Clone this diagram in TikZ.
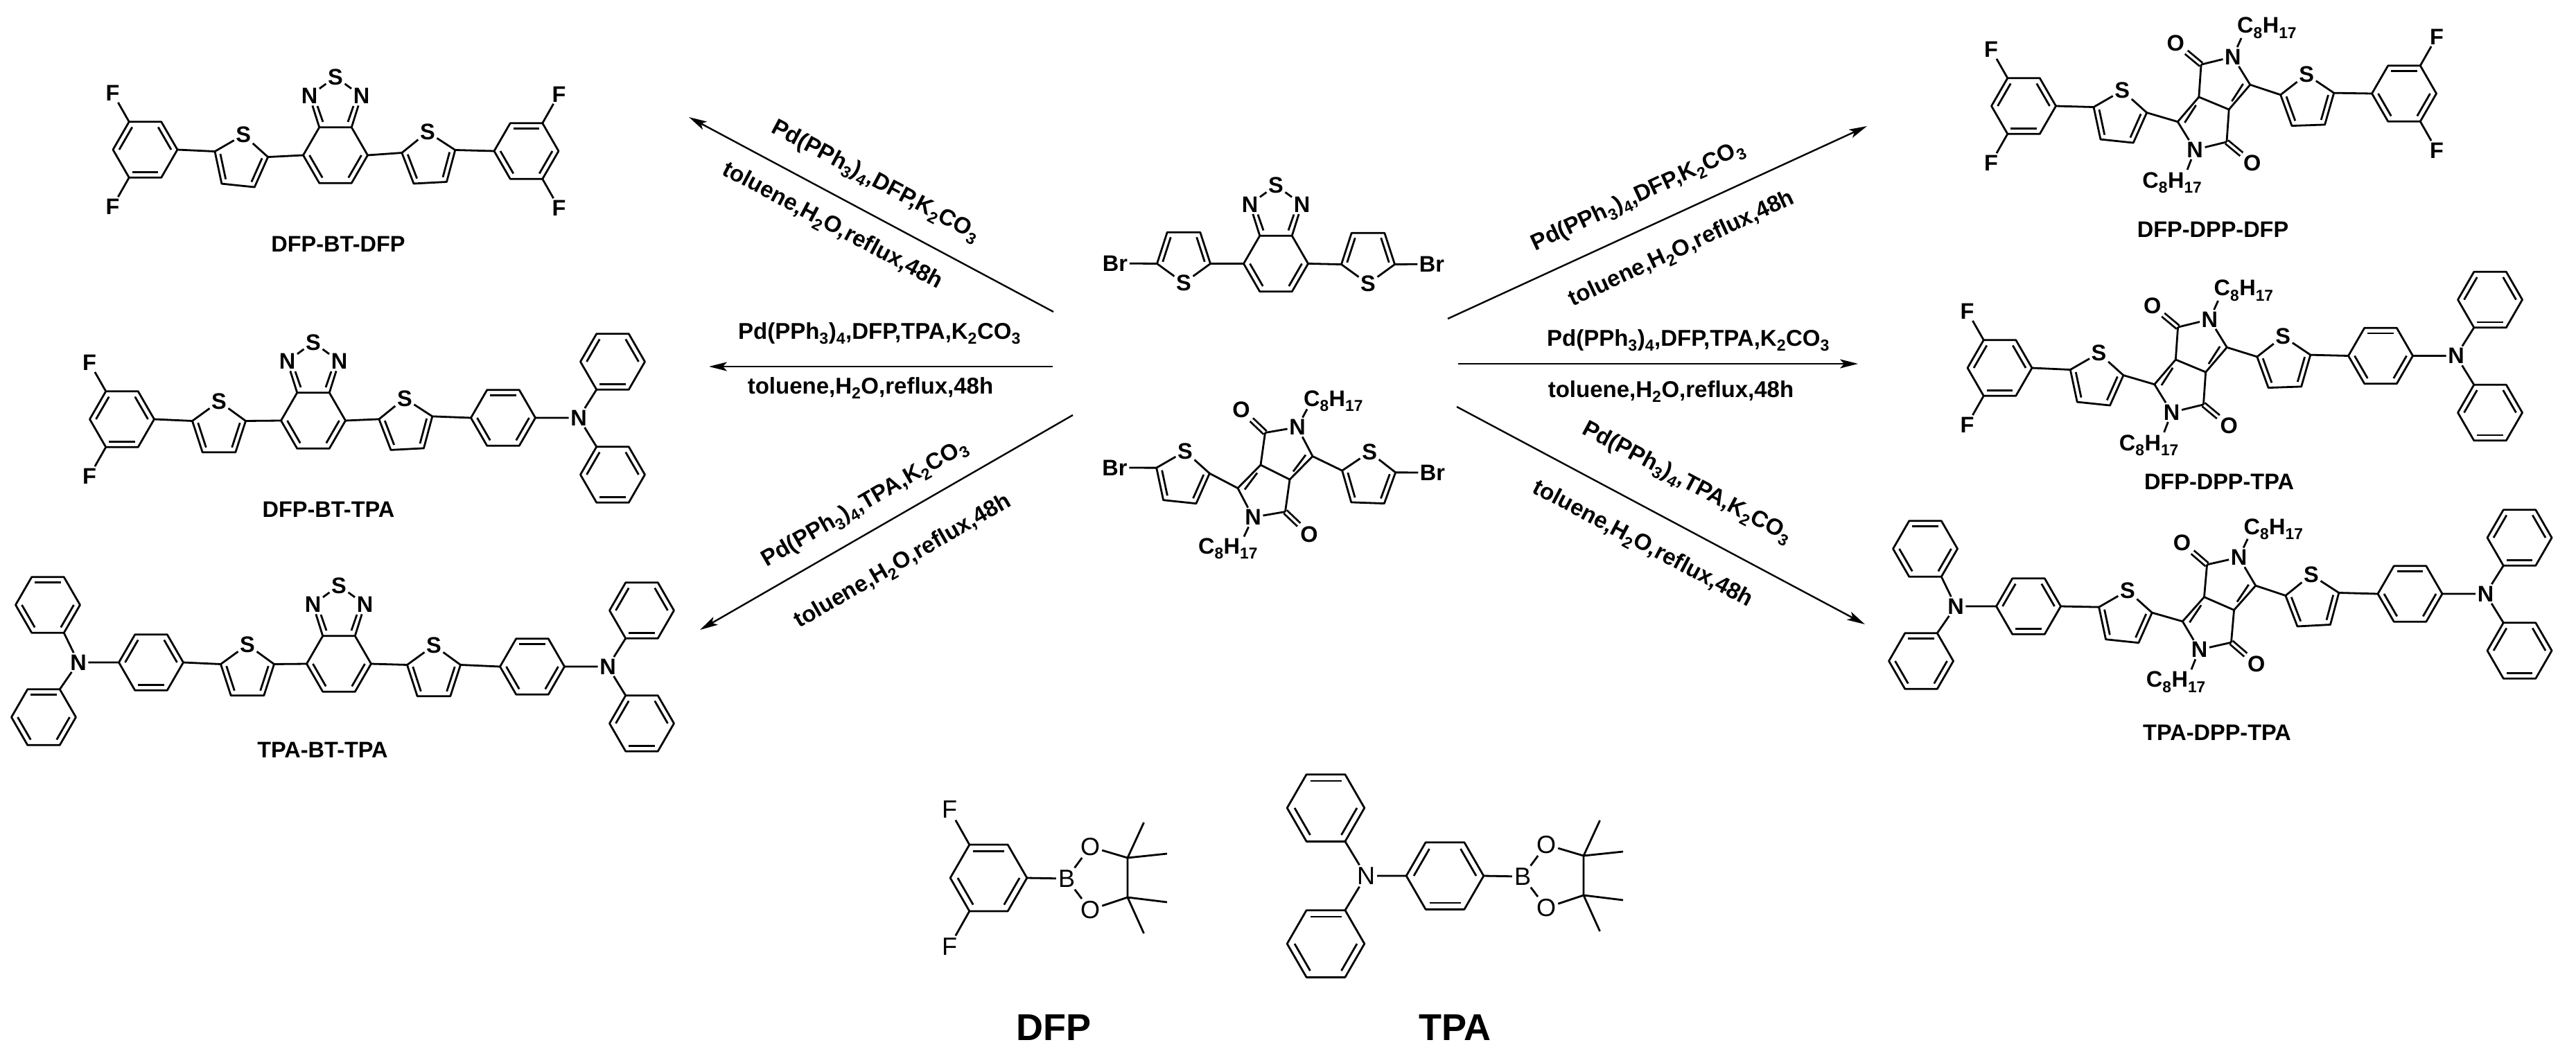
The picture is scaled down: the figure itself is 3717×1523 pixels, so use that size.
\documentclass[tikz,border=0pt]{standalone}
\usepackage{fontspec}
\setmainfont{Liberation Sans}
\usetikzlibrary{arrows.meta}
\tikzstyle{bond} = [line width=2.8pt, line join=round]
\tikzstyle{arrow} = [line width=2.4pt, -{Stealth[length=26pt,width=13pt,inset=6pt]}]
\tikzstyle{atom} = [inner sep=2.5pt, font=\fontsize{32.5}{33}\selectfont\bfseries]
\tikzstyle{thinatom} = [inner sep=3pt, font=\fontsize{36}{36}\selectfont]
\tikzstyle{cond} = [inner sep=0pt, font=\fontsize{33}{33}\selectfont\bfseries]
\tikzstyle{title} = [inner sep=0pt, font=\fontsize{32.5}{33}\selectfont\bfseries]
\tikzstyle{bigtitle} = [inner sep=0pt, font=\fontsize{54}{54}\selectfont\bfseries]
\newcommand\octyl{C\textsubscript{8}H\textsubscript{17}}
\newcommand\pdcat{Pd(PPh\textsubscript{3})\textsubscript{4}}
\newcommand\carb{K\textsubscript{2}CO\textsubscript{3}}
\newcommand\solv{toluene,H\textsubscript{2}O,reflux,48h}
\tikzset{
	pics/hexring/.style={code={
		\foreach \k in {1,...,6} {\coordinate (-\k) at ({60*(\k-1)}:46.5);}
		\draw [bond] (-1) -- (-2) -- (-3) -- (-4) -- (-5) -- (-6) -- cycle;
		\foreach \k in {#1} {\draw [bond] ({60*(\k-1)}:37.5) -- ({60*\k}:37.5);}
	}},
	pics/thienyl/.style={code={
		\node [atom] (-S) at (270:40.5) {S};
		\foreach \k in {1,...,4} {\coordinate (-\k) at ({270+72*\k}:40.5);}
		\draw [bond] (-S) -- (-1) -- (-2) -- (-3) -- (-4) -- (-S);
		\draw [bond] (342:31.8) -- (54:31.8) (126:31.8) -- (198:31.8);
	}},
	pics/dfpleft/.style={code={
		\pic (-ring) at (0,0) {hexring={2,4,6}};
		\node [atom] (-Fa) at (-47,-82) {F};
		\node [atom] (-Fb) at (-47,82) {F};
		\draw [bond] (-ring-5) -- (-Fa) (-ring-3) -- (-Fb);
	}},
	pics/dfpright/.style={code={
		\pic (-ring) at (0,0) {hexring={1,3,5}};
		\node [atom] (-Fa) at (47,-82) {F};
		\node [atom] (-Fb) at (47,82) {F};
		\draw [bond] (-ring-6) -- (-Fa) (-ring-2) -- (-Fb);
	}},
	pics/tpaleft/.style={code={
		\pic (-ring) at (0,0) {hexring={2,4,6}};
		\node [atom] (-N) at (-105,0) {N};
		\pic (-up) at (-149,-83) {hexring={1,3,5}};
		\pic (-lo) at (-155,79) {hexring={1,3,5}};
		\draw [bond] (-N) -- (-ring-4) (-N) -- (-up-2) (-N) -- (-lo-6);
	}},
	pics/tparight/.style={code={
		\pic (-ring) at (0,0) {hexring={1,3,5}};
		\node [atom] (-N) at (109,0) {N};
		\pic (-up) at (158,-81) {hexring={2,4,6}};
		\pic (-lo) at (158,82) {hexring={2,4,6}};
		\draw [bond] (-N) -- (-ring-1) (-N) -- (-up-3) (-N) -- (-lo-5);
	}},
	pics/btcore/.style={code={
		\pic (-ring) at (0,0) {hexring={1,3}};
		\node [atom] (-Na) at (-37.5,-85.5) {N};
		\node [atom] (-Nb) at (37.5,-85.5) {N};
		\node [atom] (-S) at (0,-113) {S};
		\draw [bond] (-ring-5) -- (-Na) -- (-S) -- (-Nb) -- (-ring-6);
		\draw [bond] (-18,-48) -- (-26,-71) (18,-48) -- (26,-71);
	}},
	pics/dppcore/.style={code={
		\coordinate (-A) at (-21,-10.5);
		\coordinate (-B) at (21,10.5);
		\coordinate (-Ca) at (-14.5,-57);
		\coordinate (-Cb) at (14.5,57);
		\coordinate (-Cl) at (-54,23);
		\coordinate (-Cr) at (54,-23);
		\node [atom] (-Na) at (32,-65) {N};
		\node [atom] (-Nb) at (-32,65) {N};
		\node [atom] (-Oa) at (-49,-90) {O};
		\node [atom] (-Ob) at (49,90) {O};
		\node [atom] (-Ta) at (84,-103) {\octyl};
		\node [atom] (-Tb) at (-68,110) {\octyl};
		\coordinate (-ea) at (46,-91);
		\coordinate (-eb) at (-45,93);
		\draw [bond, double, double distance=3.5pt] (-Ca) -- (-Oa) (-Cb) -- (-Ob);
		\draw [bond] (-Ca) -- (-Na) -- (-Cr) -- (-B) -- (-A) -- (-Ca);
		\draw [bond] (-Cb) -- (-Nb) -- (-Cl) -- (-A) (-B) -- (-Cb);
		\draw [bond] (26,-1) -- (44,-25) (-26,1) -- (-44,25);
		\draw [bond] (-Na) -- (-ea) (-Nb) -- (-eb);
	}},
	pics/pinacol/.style={code={
		\node [thinatom] (-B) at (0,0) {B};
		\node [thinatom] (-Oa) at (34,-46) {O};
		\node [thinatom] (-Ob) at (34,45) {O};
		\coordinate (-Ca) at (88,-30);
		\coordinate (-Cb) at (88,27);
		\coordinate (-ma) at (111.5,-81);
		\coordinate (-mb) at (145,-36);
		\coordinate (-mc) at (145,34);
		\coordinate (-md) at (111.5,79);
		\draw [bond] (-B) -- (-Oa) -- (-Ca) -- (-Cb) -- (-Ob) -- (-B);
		\draw [bond] (-ma) -- (-Ca) -- (-mb) (-mc) -- (-Cb) -- (-md);
	}},
}

\begin{document}
\begin{tikzpicture}[x=1pt, y=-1pt]
\useasboundingbox (0,0) rectangle (3717,1523);

% DFP-BT-DFP
\pic (a1) at (209.5,216) {dfpleft};
\pic [rotate=-6] (a2) at (347,235) {thienyl};
\pic (a3) at (484,224) {btcore};
\pic [rotate=3] (a4) at (619,231) {thienyl};
\pic (a5) at (759.5,218) {dfpright};
\draw [bond] (a1-ring-1) -- (a2-4) (a2-1) -- (a3-ring-4) (a3-ring-1) -- (a4-4) (a4-1) -- (a5-ring-4);
\node [title] (nameA) at (488,352) {DFP-BT-DFP};

% DFP-BT-TPA
\pic (b1) at (176,605) {dfpleft};
\pic (b2) at (316,620) {thienyl};
\pic (b3) at (452,607) {btcore};
\pic [rotate=3] (b4) at (586,615.4) {thienyl};
\pic (b5) at (726,603) {tparight};
\draw [bond] (b1-ring-1) -- (b2-4) (b2-1) -- (b3-ring-4) (b3-ring-1) -- (b4-4) (b4-1) -- (b5-ring-4);
\node [title] (nameB) at (474,735) {DFP-BT-TPA};

% TPA-BT-TPA
\pic (c1) at (218,956) {tpaleft};
\pic (c2) at (357,971) {thienyl};
\pic (c3) at (489,958) {btcore};
\pic (c4) at (626,972) {thienyl};
\pic (c5) at (768,962) {tparight};
\draw [bond] (c1-ring-1) -- (c2-4) (c2-1) -- (c3-ring-4) (c3-ring-1) -- (c4-4) (c4-1) -- (c5-ring-4);
\node [title] (nameC) at (465.5,1082) {TPA-BT-TPA};

% Br-BT-Br
\node [atom] (brA) at (1609,380) {Br};
\pic [rotate=180] (d1) at (1708,368) {thienyl};
\pic (d2) at (1841,380.5) {btcore};
\pic [rotate=180] (d3) at (1974,369) {thienyl};
\node [atom] (brB) at (2066,381) {Br};
\draw [bond] (brA) -- (d1-1) (d1-4) -- (d2-ring-4) (d2-ring-1) -- (d3-1) (d3-4) -- (brB);

% Br-DPP-Br
\node [atom] (brC) at (1608.5,675) {Br};
\pic [rotate=-6] (e1) at (1705.7,691.6) {thienyl};
\pic (e2) at (1840,681.5) {dppcore};
\pic [rotate=-2] (e3) at (1974.7,693) {thienyl};
\node [atom] (brD) at (2067,682) {Br};
\draw [bond] (brC) -- (e1-4) (e1-1) -- (e2-Cl) (e2-Cr) -- (e3-4) (e3-1) -- (brD);

% DFP-DPP-DFP
\pic (f1) at (2920,153) {dfpleft};
\pic [rotate=-6] (f2) at (3058,171) {thienyl};
\pic [rotate=4] (f3) at (3194.5,149) {dppcore};
\pic [rotate=2] (f4) at (3329.6,148) {thienyl};
\pic (f5) at (3469,135) {dfpright};
\draw [bond] (f1-ring-1) -- (f2-4) (f2-1) -- (f3-Cl) (f3-Cr) -- (f4-4) (f4-1) -- (f5-ring-4);
\node [title] (nameF) at (3193,331) {DFP-DPP-DFP};

% DFP-DPP-TPA
\pic (g1) at (2885.5,531) {dfpleft};
\pic [rotate=-6] (g2) at (3024.3,550) {thienyl};
\pic [rotate=4] (g3) at (3161,528) {dppcore};
\pic [rotate=2] (g4) at (3295.7,526) {thienyl};
\pic (g5) at (3435,513.5) {tparight};
\draw [bond] (g1-ring-1) -- (g2-4) (g2-1) -- (g3-Cl) (g3-Cr) -- (g4-4) (g4-1) -- (g5-ring-4);
\node [title] (nameG) at (3202,695) {DFP-DPP-TPA};

% TPA-DPP-TPA
\pic (h1) at (2927,875) {tpaleft};
\pic [rotate=-6] (h2) at (3065.6,892.6) {thienyl};
\pic [rotate=3] (h3) at (3202,871) {dppcore};
\pic [rotate=3] (h4) at (3337,870) {thienyl};
\pic (h5) at (3477.5,857) {tparight};
\draw [bond] (h1-ring-1) -- (h2-4) (h2-1) -- (h3-Cl) (h3-Cr) -- (h4-4) (h4-1) -- (h5-ring-4);
\node [title] (nameH) at (3199,1057) {TPA-DPP-TPA};

% boronate DFP
\pic [scale=1.19] (k1) at (1426.5,1267) {hexring={1,3,5}};
\node [thinatom] (kFa) at (1370,1168) {F};
\node [thinatom] (kFb) at (1370,1366) {F};
\pic (k2) at (1539,1268) {pinacol};
\draw [bond] (k1-5) -- (kFa) (k1-3) -- (kFb) (k1-1) -- (k2-B);
\node [bigtitle] (nameK) at (1520,1483) {DFP};

% boronate TPA
\pic [scale=1.2] (m1) at (1913,1166) {hexring={1,3,5}};
\pic [scale=1.2] (m2) at (1913,1362) {hexring={1,3,5}};
\pic [scale=1.2] (m3) at (2085,1264) {hexring={2,4,6}};
\node [thinatom] (mN) at (1971,1264) {N};
\pic (m4) at (2197,1265) {pinacol};
\draw [bond] (mN) -- (m1-2) (mN) -- (m2-6) (mN) -- (m3-4) (m3-1) -- (m4-B);
\node [bigtitle] (nameM) at (2099.5,1483) {TPA};

% arrows, free ends
\coordinate (p1s) at (1520,450);
\coordinate (p1e) at (994,169);
\coordinate (p2s) at (1519,529);
\coordinate (p2e) at (1023,529);
\coordinate (p3s) at (1548,599);
\coordinate (p3e) at (1010,909);
\coordinate (p4s) at (2089,460);
\coordinate (p4e) at (2694,182);
\coordinate (p5s) at (2104,525);
\coordinate (p5e) at (2681,525);
\coordinate (p6s) at (2102,587);
\coordinate (p6e) at (2691,901);
\draw [arrow] (p1s) -- (p1e);
\draw [arrow] (p2s) -- (p2e);
\draw [arrow] (p3s) -- (p3e);
\draw [arrow] (p4s) -- (p4e);
\draw [arrow] (p5s) -- (p5e);
\draw [arrow] (p6s) -- (p6e);

% conditions
\node [cond, rotate=-28] (q1a) at (1263,262) {\pdcat,DFP,\carb};
\node [cond, rotate=-28] (q1b) at (1201,327) {\solv};
\node [cond] (q2a) at (1269,481) {\pdcat,DFP,TPA,\carb};
\node [cond] (q2b) at (1256,560) {\solv};
\node [cond, rotate=30] (q3a) at (1248,727) {\pdcat,TPA,\carb};
\node [cond, rotate=30] (q3b) at (1303,811) {\solv};
\node [cond, rotate=25] (q4a) at (2364,284) {\pdcat,DFP,\carb};
\node [cond, rotate=25] (q4b) at (2427,360) {\solv};
\node [cond] (q5a) at (2436,491) {\pdcat,DFP,TPA,\carb};
\node [cond] (q5b) at (2411,565) {\solv};
\node [cond, rotate=-28] (q6a) at (2434,697) {\pdcat,TPA,\carb};
\node [cond, rotate=-28] (q6b) at (2370,786) {\solv};
\end{tikzpicture}
\end{document}
